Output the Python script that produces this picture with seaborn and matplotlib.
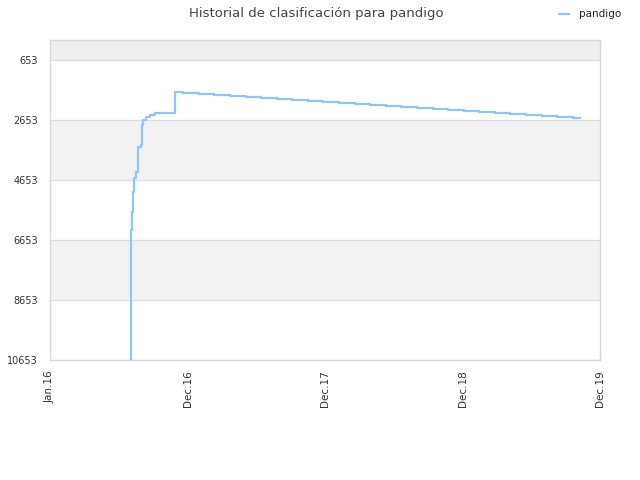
import pandas as pd
import matplotlib
matplotlib.use("Agg")
import matplotlib.pyplot as plt
import seaborn as sns

# ranking history (lower number = better position)
dates = [
    "2016-07-03", "2016-07-03", "2016-07-06", "2016-07-08", "2016-07-11",
    "2016-07-16", "2016-07-22", "2016-07-30", "2016-08-01", "2016-08-04",
    "2016-08-12", "2016-08-23", "2016-09-05", "2016-10-27", "2016-11-18",
    "2016-12-31", "2017-02-09", "2017-03-23", "2017-05-04", "2017-06-13",
    "2017-07-25", "2017-09-04", "2017-10-16", "2017-11-25", "2018-01-06",
    "2018-02-18", "2018-03-30", "2018-05-12", "2018-06-20", "2018-08-02",
    "2018-09-13", "2018-10-23", "2018-12-05", "2019-01-13", "2019-02-25",
    "2019-04-07", "2019-05-18", "2019-06-30", "2019-08-09", "2019-09-19",
    "2019-10-10",
]
ranks = [
    10653, 6320, 5720, 5053, 4587,
    4387, 3553, 3487, 2820, 2653,
    2553, 2487, 2420, 1720, 1743,
    1787, 1810, 1843, 1876, 1910,
    1943, 1976, 2010, 2043, 2076,
    2110, 2143, 2176, 2210, 2243,
    2276, 2310, 2343, 2376, 2410,
    2443, 2476, 2510, 2543, 2576,
    2576,
]
y_ticks = [653, 2653, 4653, 6653, 8653, 10653]
x_tick_dates = ["2015-12-01", "2016-12-01", "2017-12-01", "2018-12-01", "2019-12-01"]
x_tick_labels = ["Jan.16", "Dec.16", "Dec.17", "Dec.18", "Dec.19"]

df = pd.DataFrame({"date": pd.to_datetime(dates), "rank": ranks, "who": "pandigo"})

sns.set_style("white")
plt.rcParams["font.family"] = ["DejaVu Sans"]

fig = plt.figure(figsize=(6.4, 4.8), dpi=100)
ax = fig.add_axes([50 / 640, 1 - 360 / 480, 550 / 640, 320 / 480])

# background bands
ax.axhspan(-14, 653, color="#eeeeee", zorder=0, lw=0)
ax.axhspan(2653, 4653, color="#f2f2f2", zorder=0, lw=0)
ax.axhspan(6653, 8653, color="#f2f2f2", zorder=0, lw=0)
for t in y_ticks:
    ax.axhline(t, color="#dddddd", lw=0.9, zorder=1)

sns.lineplot(data=df, x="date", y="rank", hue="who", palette=["#92c5f5"],
             estimator=None, sort=False, drawstyle="steps-post", lw=1.6,
             ax=ax, zorder=3)

ax.set_ylim(10653, -14)
ax.set_xlim(pd.Timestamp(x_tick_dates[0]), pd.Timestamp(x_tick_dates[-1]))
ax.set_yticks(y_ticks)
ax.set_yticklabels([str(t) for t in y_ticks], fontsize=7, color="#333333")
ax.set_xticks(pd.to_datetime(x_tick_dates))
ax.set_xticklabels(x_tick_labels, rotation=90, fontsize=7.5, color="#333333")
ax.tick_params(axis="y", length=0, pad=8.5)
ax.tick_params(axis="x", length=0, pad=7.5)
ax.set_xlabel("")
ax.set_ylabel("")
for s in ax.spines.values():
    s.set_color("#d8d8d8")
    s.set_linewidth(1)

ax.get_legend().remove()
handles, labels = ax.get_legend_handles_labels()
fig.legend(handles, labels, loc="upper right", bbox_to_anchor=(0.985, 1.0),
           frameon=False, fontsize=7.5, handlelength=1.0, handletextpad=0.9)

fig.text(0.495, 1 - 13 / 480, "Historial de clasificación para pandigo",
         ha="center", va="center", fontsize=9.5, color="#444444")

fig.savefig("out.png", dpi=100)
